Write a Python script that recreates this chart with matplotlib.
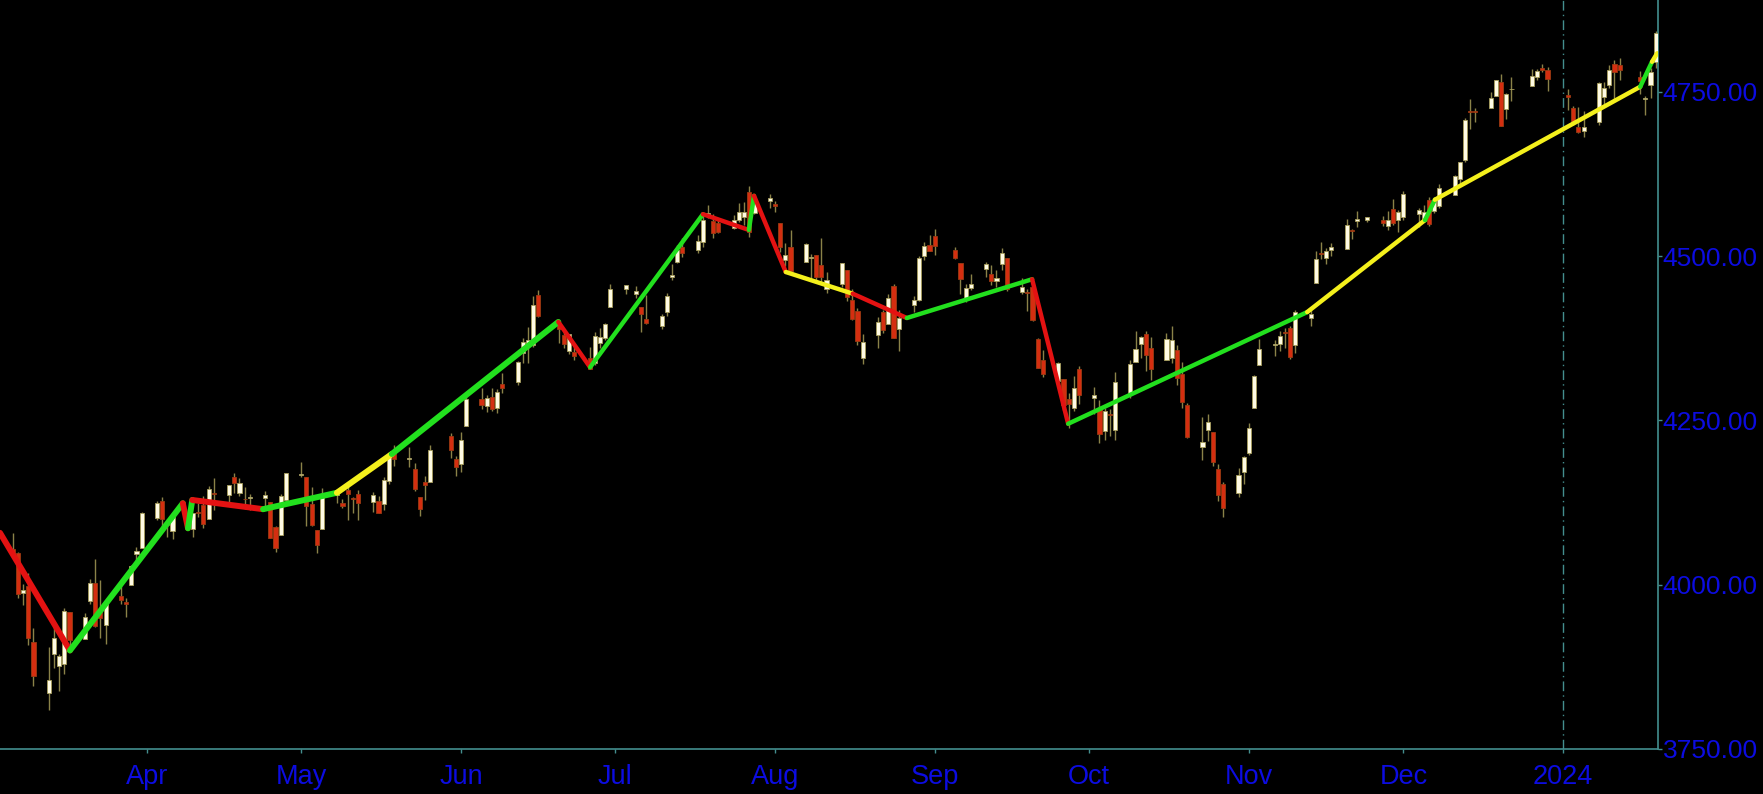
import matplotlib
matplotlib.use("Agg")
import matplotlib.pyplot as plt
import matplotlib.dates as mdates
import numpy as np
import pandas as pd

# trading days per month (SPX daily, Mar 2023 - Jan 2024)
month_days = {
    "2023-03": [3, 6, 7, 8, 9, 10, 13, 14, 15, 16, 17, 20, 21, 22, 23, 24, 27, 28, 29, 30, 31],
    "2023-04": [3, 4, 5, 6, 10, 11, 12, 13, 14, 17, 18, 19, 20, 21, 24, 25, 26, 27, 28],
    "2023-05": [1, 2, 3, 4, 5, 8, 9, 10, 11, 12, 15, 16, 17, 18, 19, 22, 23, 24, 25, 26, 30, 31],
    "2023-06": [1, 2, 5, 6, 7, 8, 9, 12, 13, 14, 15, 16, 20, 21, 22, 23, 26, 27, 28, 29, 30],
    "2023-07": [3, 5, 6, 7, 10, 11, 12, 13, 14, 17, 18, 19, 20, 21, 24, 25, 26, 27, 28, 31],
    "2023-08": [1, 2, 3, 4, 7, 8, 9, 10, 11, 14, 15, 16, 17, 18, 21, 22, 23, 24, 25, 28, 29, 30, 31],
    "2023-09": [1, 5, 6, 7, 8, 11, 12, 13, 14, 15, 18, 19, 20, 21, 22, 25, 26, 27, 28, 29],
    "2023-10": [2, 3, 4, 5, 6, 9, 10, 11, 12, 13, 16, 17, 18, 19, 20, 23, 24, 25, 26, 27, 30, 31],
    "2023-11": [1, 2, 3, 6, 7, 8, 9, 10, 13, 14, 15, 16, 17, 20, 21, 22, 24, 27, 28, 29, 30],
    "2023-12": [1, 4, 5, 6, 7, 8, 11, 12, 13, 14, 15, 18, 19, 20, 21, 22, 26, 27, 28, 29],
    "2024-01": [2, 3, 4, 5, 8, 9, 10, 11, 12, 16, 17, 18, 19],
}

opens = [
    3998.02, 4055.15, 4048.26, 3987.55, 3998.66, 3912.77, 3835.12, 3894.01, 3876.74, 3878.93, 3958.69, 3917.47, 3975.89, 4002.04, 3959.21, 3939.21, 3982.93, 3974.13, 3999.53, 4046.74, 4056.18,
    4102.20, 4128.03, 4094.50, 4081.15, 4085.20, 4110.29, 4121.72, 4100.04, 4140.11, 4137.17, 4164.26, 4139.33, 4130.48, 4132.14, 4132.07, 4126.43, 4087.78, 4075.29, 4129.63,
    4166.79, 4164.10, 4122.25, 4082.61, 4084.73, 4136.98, 4124.25, 4143.74, 4132.24, 4138.54, 4126.65, 4127.95, 4122.85, 4157.68, 4204.15, 4190.78, 4176.80, 4132.96, 4155.71, 4156.16, 4226.71, 4190.74,
    4183.03, 4241.01, 4282.99, 4271.34, 4285.47, 4268.69, 4304.88, 4308.32, 4352.61, 4366.29, 4365.33, 4440.95, 4396.11, 4380.01, 4355.40, 4354.17, 4344.84, 4337.36, 4367.48, 4374.94, 4422.44,
    4450.48, 4442.04, 4422.62, 4404.54, 4394.23, 4415.55, 4467.69, 4491.50, 4514.61, 4508.86, 4521.78, 4563.87, 4554.38, 4550.16, 4543.39, 4555.19, 4558.96, 4598.26, 4565.75, 4584.82,
    4578.83, 4550.93, 4494.27, 4513.96, 4491.58, 4498.03, 4501.57, 4487.16, 4450.69, 4458.13, 4478.87, 4433.79, 4416.32, 4344.88, 4380.28, 4415.33, 4396.44, 4455.16, 4389.38, 4426.03, 4432.75, 4500.34, 4517.01,
    4530.60, 4510.06, 4490.35, 4434.55, 4451.30, 4480.98, 4473.27, 4462.65, 4487.78, 4497.98, 4445.13, 4445.41, 4452.81, 4374.36, 4341.74, 4310.62, 4312.88, 4282.63, 4269.65, 4328.18,
    4284.52, 4269.75, 4233.83, 4259.31, 4234.79, 4289.02, 4339.75, 4366.59, 4380.94, 4360.49, 4342.37, 4345.23, 4357.35, 4321.36, 4273.85, 4210.40, 4235.79, 4232.42, 4175.99, 4152.93, 4139.39, 4171.33,
    4201.27, 4268.26, 4334.23, 4364.27, 4366.21, 4384.37, 4391.41, 4364.15, 4406.66, 4458.97, 4505.30, 4497.08, 4509.55, 4511.70, 4538.77, 4553.04, 4555.84, 4554.86, 4545.55, 4571.84, 4554.87,
    4559.43, 4564.37, 4557.25, 4586.23, 4568.84, 4576.20, 4593.39, 4618.30, 4646.20, 4721.04, 4719.33, 4725.58, 4743.72, 4764.73, 4724.29, 4753.92, 4758.86, 4773.45, 4786.44, 4782.88,
    4745.20, 4725.07, 4697.42, 4690.57, 4703.70, 4741.93, 4759.94, 4792.13, 4791.18, 4772.35, 4739.13, 4760.10, 4796.28,
]
highs = [
    4048.29, 4078.49, 4050.00, 4000.41, 4017.81, 3934.05, 3905.05, 3937.29, 3894.26, 3964.46, 3958.91, 3956.62, 4009.08, 4039.49, 4007.66, 3972.74, 4003.83, 3979.20, 4030.59, 4057.85, 4110.75,
    4127.66, 4133.13, 4099.69, 4107.32, 4109.50, 4124.26, 4134.37, 4150.26, 4163.19, 4151.72, 4169.48, 4162.57, 4148.57, 4138.02, 4142.41, 4126.43, 4089.67, 4138.24, 4170.06,
    4186.92, 4164.10, 4148.30, 4082.61, 4147.02, 4142.30, 4130.35, 4154.28, 4132.80, 4143.74, 4141.25, 4135.54, 4164.67, 4202.20, 4212.91, 4209.22, 4185.68, 4132.96, 4165.74, 4212.87, 4231.10, 4195.44,
    4232.43, 4290.67, 4299.28, 4288.33, 4299.19, 4298.01, 4322.62, 4340.13, 4375.37, 4391.82, 4439.20, 4448.47, 4400.15, 4386.22, 4382.25, 4366.55, 4362.06, 4384.42, 4390.35, 4398.39, 4458.48,
    4456.46, 4454.06, 4422.62, 4440.39, 4412.60, 4443.64, 4488.34, 4517.38, 4527.76, 4532.85, 4562.30, 4578.43, 4564.74, 4555.00, 4563.41, 4580.62, 4582.47, 4607.07, 4590.16, 4594.22,
    4584.62, 4550.93, 4519.84, 4540.34, 4519.84, 4503.31, 4502.44, 4527.37, 4476.23, 4490.33, 4478.87, 4449.95, 4421.17, 4381.82, 4407.55, 4418.59, 4443.18, 4458.30, 4418.46, 4439.56, 4500.14, 4521.65, 4532.26,
    4541.25, 4514.29, 4490.35, 4457.81, 4473.53, 4490.77, 4487.11, 4479.39, 4511.99, 4497.98, 4466.36, 4449.85, 4461.03, 4375.70, 4357.40, 4338.51, 4313.01, 4292.07, 4317.27, 4333.15,
    4300.58, 4281.15, 4268.50, 4267.13, 4324.10, 4341.73, 4385.46, 4378.64, 4385.85, 4377.10, 4383.33, 4393.57, 4364.20, 4339.54, 4276.56, 4255.84, 4259.38, 4232.42, 4183.60, 4156.70, 4177.47, 4195.55,
    4245.64, 4319.72, 4373.62, 4372.21, 4386.26, 4391.20, 4393.40, 4418.03, 4421.76, 4508.67, 4521.17, 4511.99, 4520.12, 4557.11, 4542.14, 4568.43, 4560.31, 4560.52, 4568.14, 4587.64, 4569.89,
    4599.39, 4574.06, 4578.56, 4590.74, 4590.92, 4609.23, 4623.71, 4643.93, 4709.69, 4738.57, 4725.58, 4749.52, 4768.69, 4778.01, 4748.71, 4772.94, 4784.72, 4785.39, 4793.30, 4788.43,
    4754.33, 4729.29, 4726.78, 4721.49, 4764.54, 4765.47, 4790.80, 4798.50, 4802.40, 4782.34, 4744.23, 4785.79, 4842.07,
]
lows = [
    3990.08, 4044.61, 3980.31, 3969.76, 3908.70, 3846.32, 3808.86, 3873.63, 3838.24, 3864.11, 3901.27, 3916.89, 3971.19, 3936.17, 3919.05, 3909.16, 3970.49, 3951.53, 3999.53, 4032.10, 4056.18,
    4098.79, 4086.87, 4072.56, 4069.84, 4072.55, 4102.61, 4086.94, 4099.40, 4113.20, 4123.18, 4140.36, 4134.49, 4114.57, 4113.86, 4117.77, 4071.38, 4049.35, 4075.29, 4127.18,
    4164.12, 4089.72, 4088.86, 4048.28, 4084.73, 4123.81, 4116.65, 4098.92, 4109.29, 4099.12, 4110.27, 4109.86, 4113.62, 4153.50, 4180.20, 4179.68, 4142.54, 4103.98, 4129.73, 4156.16, 4192.18, 4166.15,
    4171.64, 4241.01, 4266.82, 4263.09, 4264.19, 4261.07, 4291.70, 4304.37, 4337.66, 4337.85, 4362.60, 4407.44, 4367.19, 4360.14, 4351.82, 4341.34, 4328.08, 4335.00, 4360.22, 4371.97, 4422.44,
    4442.29, 4436.61, 4385.05, 4397.40, 4389.92, 4408.46, 4463.23, 4489.36, 4499.56, 4504.90, 4514.59, 4557.48, 4527.56, 4535.79, 4541.29, 4552.42, 4547.58, 4528.56, 4564.01, 4573.14,
    4567.53, 4505.75, 4485.54, 4474.55, 4491.15, 4464.39, 4461.33, 4457.92, 4443.98, 4453.44, 4432.19, 4403.55, 4364.83, 4335.31, 4360.30, 4382.77, 4396.44, 4375.55, 4356.29, 4414.98, 4431.68, 4493.59, 4507.39,
    4501.35, 4496.01, 4442.38, 4430.46, 4448.38, 4467.89, 4456.83, 4453.52, 4478.69, 4447.21, 4442.11, 4416.61, 4401.38, 4329.17, 4316.49, 4302.70, 4265.98, 4238.63, 4264.38, 4274.86,
    4260.21, 4216.45, 4220.48, 4225.91, 4219.55, 4283.79, 4339.64, 4345.34, 4325.43, 4311.97, 4342.37, 4337.54, 4303.84, 4269.69, 4223.03, 4189.22, 4219.43, 4181.42, 4127.90, 4103.78, 4132.94, 4153.12,
    4197.74, 4268.26, 4334.23, 4347.53, 4355.41, 4359.76, 4343.94, 4353.34, 4393.82, 4458.97, 4495.31, 4487.83, 4499.66, 4510.36, 4525.51, 4545.05, 4552.80, 4546.32, 4540.51, 4547.15, 4537.24,
    4554.71, 4544.48, 4551.68, 4546.50, 4565.22, 4574.06, 4593.39, 4608.09, 4643.23, 4694.34, 4704.48, 4725.58, 4743.72, 4697.82, 4708.35, 4736.77, 4758.45, 4768.90, 4780.98, 4751.99,
    4722.67, 4699.71, 4687.53, 4682.11, 4699.82, 4730.35, 4756.20, 4739.58, 4768.98, 4747.12, 4714.82, 4740.57, 4785.87,
]
closes = [
    4045.64, 4048.42, 3986.37, 3992.01, 3918.32, 3861.59, 3855.76, 3919.29, 3891.93, 3960.28, 3916.64, 3951.57, 4002.87, 3936.97, 3948.72, 3970.99, 3977.53, 3971.27, 4027.81, 4050.83, 4109.31,
    4124.51, 4100.60, 4090.38, 4105.02, 4109.11, 4108.94, 4091.95, 4146.22, 4137.64, 4151.32, 4154.87, 4154.52, 4129.79, 4133.52, 4137.04, 4071.63, 4055.99, 4135.35, 4169.48,
    4167.87, 4119.58, 4090.75, 4061.22, 4136.25, 4138.12, 4119.17, 4137.64, 4130.62, 4124.08, 4136.28, 4109.90, 4158.77, 4198.05, 4191.98, 4192.63, 4145.58, 4115.24, 4151.28, 4205.45, 4205.52, 4179.83,
    4221.02, 4282.37, 4273.79, 4283.85, 4267.52, 4293.93, 4298.86, 4338.93, 4369.01, 4372.59, 4425.84, 4409.59, 4388.71, 4365.69, 4381.89, 4348.33, 4328.82, 4378.41, 4376.86, 4396.44, 4450.38,
    4455.59, 4446.82, 4411.59, 4398.95, 4409.53, 4439.26, 4472.16, 4510.04, 4505.42, 4522.79, 4554.98, 4565.72, 4534.87, 4536.34, 4554.64, 4567.46, 4566.75, 4537.41, 4582.23, 4588.96,
    4576.73, 4513.39, 4501.89, 4478.03, 4518.44, 4499.38, 4467.71, 4468.83, 4464.05, 4489.72, 4437.86, 4404.33, 4370.36, 4369.71, 4399.77, 4387.55, 4436.01, 4376.31, 4405.71, 4433.31, 4497.63, 4514.87, 4507.66,
    4515.77, 4496.83, 4465.48, 4451.14, 4457.49, 4487.46, 4461.90, 4467.44, 4505.10, 4450.32, 4453.53, 4443.95, 4402.20, 4330.00, 4320.06, 4337.44, 4273.53, 4274.51, 4299.70, 4288.05,
    4288.39, 4229.45, 4263.75, 4258.19, 4308.50, 4335.66, 4358.24, 4376.95, 4349.61, 4327.78, 4373.63, 4373.20, 4314.60, 4278.00, 4224.16, 4217.04, 4247.68, 4186.77, 4137.23, 4117.37, 4166.82, 4193.80,
    4237.86, 4317.78, 4358.34, 4365.98, 4378.38, 4382.78, 4347.35, 4415.24, 4411.55, 4495.70, 4502.88, 4508.24, 4514.02, 4547.38, 4538.19, 4556.62, 4559.34, 4550.43, 4554.89, 4550.58, 4567.80,
    4594.63, 4569.78, 4567.18, 4549.34, 4585.59, 4604.37, 4622.44, 4643.70, 4707.09, 4719.55, 4719.19, 4740.56, 4768.37, 4698.35, 4746.75, 4754.63, 4774.75, 4781.58, 4783.35, 4769.83,
    4742.83, 4704.81, 4688.68, 4697.24, 4763.54, 4756.50, 4783.45, 4780.24, 4783.83, 4765.98, 4739.21, 4780.94, 4839.81,
]

# swing line vertices and the state of each leg
zz_dates = [
    "2023-03-03 12:00", "2023-03-17 02:00", "2023-04-08 00:00", "2023-04-09 00:00",
    "2023-04-09 20:00", "2023-04-23 14:00", "2023-05-07 22:00", "2023-05-18 14:00",
    "2023-06-19 22:00", "2023-06-26 02:00", "2023-07-18 00:00", "2023-07-26 22:00",
    "2023-07-27 22:00", "2023-08-03 02:00", "2023-08-16 02:00", "2023-08-26 14:00",
    "2023-09-19 22:00", "2023-09-26 22:00", "2023-11-12 08:00", "2023-12-05 05:00",
    "2023-12-07 03:00", "2024-01-16 00:00", "2024-01-18 07:00", "2024-01-19 07:00",
]
zz_prices = [4079, 3900, 4124, 4086, 4129, 4115, 4140, 4199, 4400, 4331, 4564, 4540,
             4592, 4476, 4443, 4406, 4465, 4245, 4415, 4555, 4586, 4758, 4796, 4809]
zz_state = ["dn", "up", "dn", "up", "dn", "up", "flat", "up", "dn", "up", "dn", "up",
            "dn", "flat", "dn", "up", "dn", "up", "flat", "up", "flat", "up", "flat"]

month_ticks = ["2023-04-01", "2023-05-01", "2023-06-01", "2023-07-01", "2023-08-01",
               "2023-09-01", "2023-10-01", "2023-11-01", "2023-12-01", "2024-01-01"]
month_labels = ["Apr", "May", "Jun", "Jul", "Aug", "Sep", "Oct", "Nov", "Dec", "2024"]
price_ticks = [3750, 4000, 4250, 4500, 4750]

TEAL = "#438e8e"
BLUE = "#0c0ce0"
UP_FILL, UP_EDGE = "#fffbe4", "#a89e5c"
DN_FILL, DN_EDGE = "#d42e10", "#9c3a12"
WICK = "#8a8248"
LEG_COLORS = {"up": "#22e01e", "dn": "#e41212", "flat": "#f4f01c"}

plt.rcParams["font.family"] = ["Liberation Sans", "DejaVu Sans"]

dates = [f"{m}-{d:02d}" for m, days in month_days.items() for d in days]
x = mdates.date2num(pd.to_datetime(dates))
o, h, l, c = (np.array(v) for v in (opens, highs, lows, closes))
up = c >= o

fig = plt.figure(figsize=(17.63, 7.94), dpi=100, facecolor="black")
ax = fig.add_axes([0, 45 / 794, 1658 / 1763, 749 / 794])
ax.set_facecolor("black")

ax.vlines(x, l, h, color=WICK, linewidth=1.0, zorder=2)
bot = np.minimum(o, c)
hgt = np.maximum(np.abs(c - o), 1.2)
ax.bar(x[up], hgt[up], bottom=bot[up], width=0.8, color=UP_FILL,
       edgecolor=UP_EDGE, linewidth=0.6, zorder=3)
ax.bar(x[~up], hgt[~up], bottom=bot[~up], width=0.8, color=DN_FILL,
       edgecolor=DN_EDGE, linewidth=0.6, zorder=3)

zx = mdates.date2num(pd.to_datetime(zz_dates))
for i, st in enumerate(zz_state):
    lw = 4.3 if i < 8 else 3.2
    ax.plot(zx[i:i + 2], zz_prices[i:i + 2], color=LEG_COLORS[st], linewidth=lw,
            solid_capstyle="round", zorder=4)

ax.axvline(mdates.date2num(pd.Timestamp("2024-01-01")), color=TEAL, linewidth=1.0,
           linestyle=(0, (7, 3, 1, 3)), zorder=1)

ax.set_xlim(mdates.date2num(pd.Timestamp("2023-03-03 12:00")),
            mdates.date2num(pd.Timestamp("2024-01-19 10:48")))
ax.set_ylim(3750, 4890)

for side in ("left", "top"):
    ax.spines[side].set_visible(False)
for side in ("right", "bottom"):
    ax.spines[side].set_color(TEAL)
    ax.spines[side].set_linewidth(1.2)

ax.yaxis.tick_right()
ax.set_yticks(price_ticks)
ax.set_yticklabels([f"{v:.2f}" for v in price_ticks])
ax.set_xticks(mdates.date2num(pd.to_datetime(month_ticks)))
ax.set_xticklabels(month_labels)
ax.tick_params(axis="y", colors=TEAL, labelcolor=BLUE, length=3, width=1,
               pad=0.5, labelsize=19)
ax.tick_params(axis="x", colors=TEAL, labelcolor=BLUE, length=3, width=1,
               pad=8, labelsize=19.5)

fig.savefig("out.png", dpi=100, facecolor="black")
